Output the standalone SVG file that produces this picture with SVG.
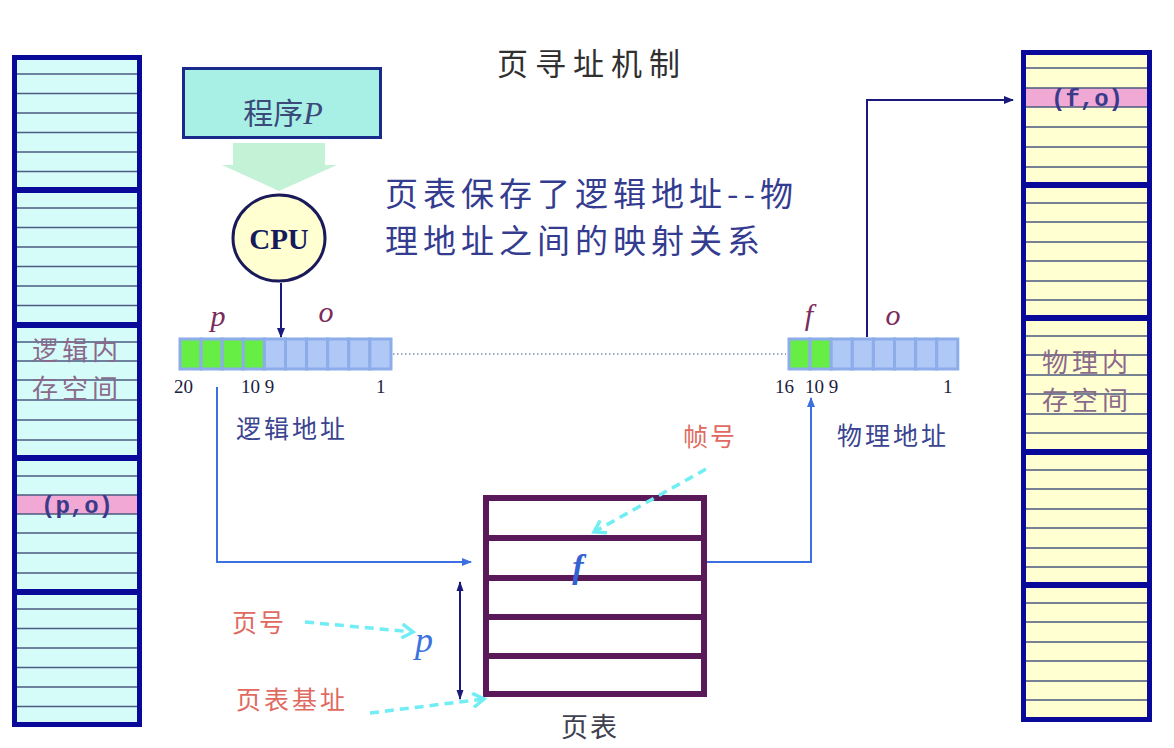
<svg xmlns="http://www.w3.org/2000/svg" width="1174" height="748" viewBox="0 0 1174 748">
<defs>
<style>
.cjk{font-family:"Noto Sans CJK SC","Noto Sans",sans-serif}
.num{font-family:"Liberation Serif",serif;font-size:19px;fill:#202040}
.var{font-family:"Liberation Serif",serif;font-style:italic;font-size:30px;fill:#7a2c5c}
.memline{stroke:#4a5a80;stroke-width:1.6}
.memsep{stroke:#0a0a9a;stroke-width:6}
.memtxt{font-size:26px;fill:#8a6a8a}
.red{fill:#e06a60;font-size:25px}
.navy{stroke:#1a1a7a;stroke-width:2;fill:none}
.blue{stroke:#3c70e0;stroke-width:2;fill:none}
.cyan{stroke:#70eef4;stroke-width:3.5;fill:none;stroke-dasharray:9,6}
.lbl{font-size:25px;fill:#3a4490}
.cell{stroke:#8cacea;stroke-width:3}
.g{fill:#66ee44}
.b{fill:#b0c8f6}
.pt{stroke:#5a1a5a;stroke-width:6;fill:#fff}
.ptl{stroke:#5a1a5a;stroke-width:6}
.mono{font-family:"Liberation Mono",monospace;font-weight:bold;font-size:24px;fill:#3a3a8a}
</style>
<marker id="an" markerWidth="10" markerHeight="10" refX="9" refY="5" orient="auto" markerUnits="userSpaceOnUse">
<path d="M0,1 L10,5 L0,9 Z" fill="#1a1a7a"/>
</marker>
<marker id="ans" markerWidth="10" markerHeight="10" refX="9" refY="5" orient="auto-start-reverse" markerUnits="userSpaceOnUse">
<path d="M0,1.5 L10,5 L0,8.5 Z" fill="#1a1a7a"/>
</marker>
<marker id="ab" markerWidth="10" markerHeight="10" refX="9" refY="5" orient="auto" markerUnits="userSpaceOnUse">
<path d="M0,1 L10,5 L0,9 Z" fill="#3c70e0"/>
</marker>
<marker id="ac" markerWidth="16" markerHeight="16" refX="13" refY="8" orient="auto" markerUnits="userSpaceOnUse">
<path d="M2,1 L13,8 L2,15" fill="none" stroke="#70eef4" stroke-width="3.5"/>
</marker>
</defs>
<rect width="1174" height="748" fill="#ffffff"/>

<text class="cjk" x="592" y="75" text-anchor="middle" font-size="31" letter-spacing="7" fill="#303030">页寻址机制</text>

<g id="logical-memory">
<rect x="14.5" y="57.5" width="125" height="667" fill="#d6fcfa"/>
<rect x="17" y="495" width="120" height="19" fill="#f2a8d4"/>
<g class="memline">
<path d="M17,74H137M17,93.5H137M17,113H137M17,132.5H137M17,152H137M17,171.5H137"/>
<path d="M17,208H137M17,227.5H137M17,247H137M17,266.5H137M17,286H137M17,305.5H137"/>
<path d="M17,342H137M17,361H137M17,380H137M17,400H137M17,420H137M17,440H137"/>
<path d="M17,476H137M17,495H137M17,514H137M17,533H137M17,553H137M17,573H137"/>
<path d="M17,609H137M17,628.5H137M17,648H137M17,667.5H137M17,687H137M17,706.5H137"/>
</g>
<g class="memsep"><path d="M14,190H140M14,325H140M14,458H140M14,592H140"/></g>
<rect x="14.5" y="57.5" width="125" height="667" fill="none" stroke="#0a0a9a" stroke-width="5"/>
<text class="mono" x="77" y="513" text-anchor="middle">(p,o)</text>
<text class="cjk memtxt" x="77" y="360" text-anchor="middle" letter-spacing="4">逻辑内</text>
<text class="cjk memtxt" x="77" y="398" text-anchor="middle" letter-spacing="4">存空间</text>
</g>

<g id="physical-memory">
<rect x="1023.5" y="52.5" width="126" height="667" fill="#ffffd2"/>
<rect x="1026" y="88" width="121" height="19" fill="#f0a8d4"/>
<g class="memline">
<path d="M1026,68H1147M1026,88H1147M1026,107H1147M1026,127H1147M1026,147H1147M1026,167H1147"/>
<path d="M1026,203H1147M1026,222H1147M1026,242H1147M1026,261H1147M1026,281H1147M1026,300H1147"/>
<path d="M1026,336H1147M1026,355H1147M1026,375H1147M1026,394H1147M1026,414H1147M1026,433H1147"/>
<path d="M1026,470H1147M1026,489H1147M1026,509H1147M1026,528H1147M1026,548H1147M1026,567H1147"/>
<path d="M1026,603H1147M1026,622H1147M1026,642H1147M1026,661H1147M1026,681H1147M1026,700H1147"/>
</g>
<g class="memsep"><path d="M1023,185H1151M1023,318H1151M1023,452H1151M1023,585H1151"/></g>
<rect x="1023.5" y="52.5" width="126" height="667" fill="none" stroke="#0a0a9a" stroke-width="5"/>
<text class="mono" x="1087" y="106" text-anchor="middle">(f,o)</text>
<text class="cjk memtxt" x="1087" y="372" text-anchor="middle" letter-spacing="4">物理内</text>
<text class="cjk memtxt" x="1087" y="410" text-anchor="middle" letter-spacing="4">存空间</text>
</g>

<g id="program">
<rect x="183.5" y="68.5" width="197" height="69" fill="#a8f0e6" stroke="#1a2a8a" stroke-width="3"/>
<text x="283" y="124" text-anchor="middle" font-size="30" fill="#3c4a7a"><tspan class="cjk">程序</tspan><tspan font-family="Liberation Serif,serif" font-style="italic" font-size="32">P</tspan></text>
</g>

<g id="big-arrow">
<path d="M233,143 H325 V165 H337 L279,191 L222,165 H233 Z" fill="#c4f2d6"/>
</g>

<g id="cpu">
<ellipse cx="279" cy="238" rx="46" ry="43" fill="#ffffd2" stroke="#1a1a5a" stroke-width="3"/>
<text x="279" y="249" text-anchor="middle" font-family="Liberation Serif,serif" font-weight="bold" font-size="29" fill="#141a5a">CPU</text>
</g>

<g id="desc">
<text class="cjk" x="385" y="206" font-size="33" letter-spacing="5" fill="#343c90">页表保存了逻辑地址--物</text>
<text class="cjk" x="385" y="253" font-size="33" letter-spacing="5" fill="#343c90">理地址之间的映射关系</text>
</g>

<g id="logical-address">
<g class="cell">
<rect class="g" x="180" y="339" width="21.1" height="30"/>
<rect class="g" x="201.1" y="339" width="21.1" height="30"/>
<rect class="g" x="222.2" y="339" width="21.1" height="30"/>
<rect class="g" x="243.3" y="339" width="21.1" height="30"/>
<rect class="b" x="264.4" y="339" width="21.1" height="30"/>
<rect class="b" x="285.5" y="339" width="21.1" height="30"/>
<rect class="b" x="306.6" y="339" width="21.1" height="30"/>
<rect class="b" x="327.7" y="339" width="21.1" height="30"/>
<rect class="b" x="348.8" y="339" width="21.1" height="30"/>
<rect class="b" x="369.9" y="339" width="21.1" height="30"/>
</g>
<text class="var" x="218" y="326" text-anchor="middle">p</text>
<text class="var" x="326" y="322" text-anchor="middle">o</text>
<text class="num" x="174" y="393">20</text>
<text class="num" x="241" y="393">10 9</text>
<text class="num" x="376" y="393">1</text>
<text class="cjk lbl" x="236" y="438" letter-spacing="3">逻辑地址</text>
</g>

<g id="physical-address">
<g class="cell">
<rect class="g" x="789" y="339" width="21.1" height="30"/>
<rect class="g" x="810.1" y="339" width="21.1" height="30"/>
<rect class="b" x="831.2" y="339" width="21.1" height="30"/>
<rect class="b" x="852.3" y="339" width="21.1" height="30"/>
<rect class="b" x="873.4" y="339" width="21.1" height="30"/>
<rect class="b" x="894.5" y="339" width="21.1" height="30"/>
<rect class="b" x="915.6" y="339" width="21.1" height="30"/>
<rect class="b" x="936.7" y="339" width="21.1" height="30"/>
</g>
<text class="var" x="809" y="325" text-anchor="middle">f</text>
<text class="var" x="893" y="325" text-anchor="middle">o</text>
<text class="num" x="775" y="393">16</text>
<text class="num" x="805" y="393">10 9</text>
<text class="num" x="943" y="393">1</text>
<text class="cjk lbl" x="837" y="445" letter-spacing="3">物理地址</text>
</g>

<g id="page-table">
<rect class="pt" x="486" y="498" width="218" height="196"/>
<path class="ptl" d="M486,538H704M486,578H704M486,617H704M486,656H704"/>
<text x="578" y="578" text-anchor="middle" font-family="Liberation Serif,serif" font-style="italic" font-weight="bold" font-size="34" fill="#3562d2">f</text>
<text class="cjk" x="590" y="737" text-anchor="middle" font-size="27" letter-spacing="2" fill="#40404e">页表</text>
</g>

<g id="labels">
<text class="cjk red" x="683" y="446" letter-spacing="2">帧号</text>
<text class="cjk red" x="232" y="632" letter-spacing="2">页号</text>
<text class="cjk red" x="236" y="709" letter-spacing="3">页表基址</text>
<text x="424" y="652" text-anchor="middle" font-family="Liberation Serif,serif" font-style="italic" font-size="36" fill="#3c72e0">p</text>
</g>

<g id="connectors">
<path d="M393,354 H786" stroke="#8090b0" stroke-width="1.5" stroke-dasharray="1.5,2.5" fill="none"/>
<path class="navy" d="M281,283 V337" marker-end="url(#an)"/>
<path class="navy" d="M867,337 V100 H1013" marker-end="url(#an)"/>
<path class="blue" d="M217,387 V562 H471" marker-end="url(#ab)"/>
<path class="blue" d="M707,562 H811 V398" marker-end="url(#ab)"/>
<path class="navy" d="M460,582 V699" marker-start="url(#ans)" marker-end="url(#ans)"/>
<path class="cyan" d="M706,469 L594,532" marker-end="url(#ac)"/>
<path class="cyan" d="M305,622 L413,632" marker-end="url(#ac)"/>
<path class="cyan" d="M370,713 L484,699" marker-end="url(#ac)"/>
</g>
</svg>
